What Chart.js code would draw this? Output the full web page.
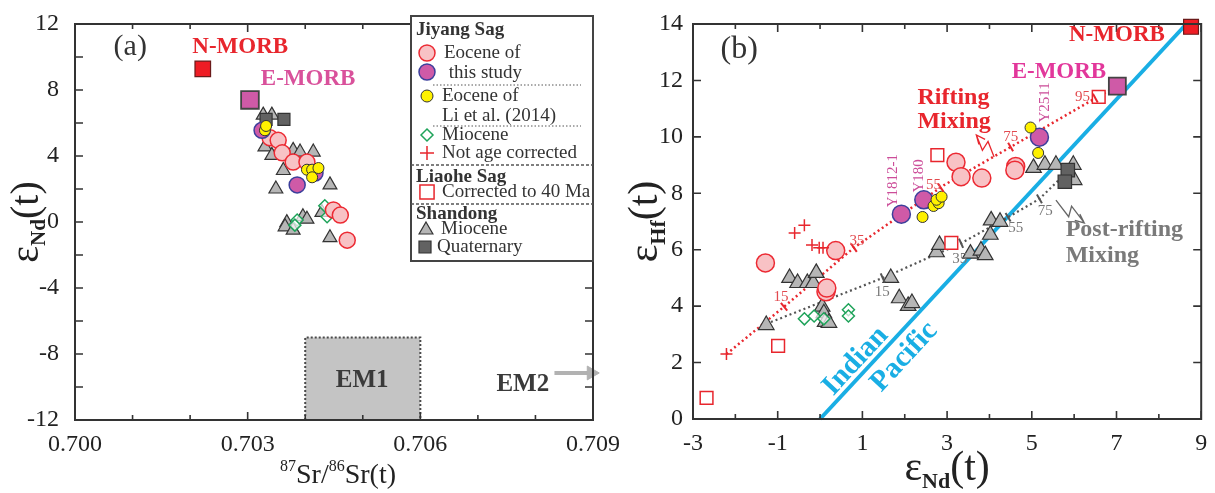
<!DOCTYPE html>
<html>
<head>
<meta charset="utf-8">
<script src="https://cdn.jsdelivr.net/npm/chart.js@4.4.0/dist/chart.umd.min.js"></script>
<style>
  html, body { margin: 0; padding: 0; background: #fff; }
  #wrap { position: relative; width: 1215px; height: 493px; overflow: hidden; }
  #ca { position: absolute; left: 0; top: 0; }
  #cb { position: absolute; left: 607px; top: 0; }
</style>
</head>
<body>
<div id="wrap">
  <canvas id="ca" width="640" height="493"></canvas>
  <canvas id="cb" width="608" height="493"></canvas>
</div>
<script>
const FONT = "'Liberation Serif', 'Times New Roman', serif";

// ---------------- DATA (a): 87Sr/86Sr(t) vs eNd(t) ----------------

const aEoceneThis   = [[0.70339,5.10],[0.70353,4.95],[0.70360,4.19],[0.70379,3.63],[0.70403,3.63],[0.70449,0.73],[0.70461,0.42],[0.70473,-1.10]];
const aEoceneThisMg = [[0.70325,5.56],[0.70386,2.25],[0.70417,2.97]];
const aEoceneLi     = [[0.70330,5.56],[0.70332,5.82],[0.70403,3.17],[0.70412,3.17],[0.70423,3.27],[0.70412,2.71]];
const aMiocene      = [[0.70386,0.12],[0.70382,-0.19],[0.70434,0.98],[0.70438,0.32]];
const aShandongMio  = [[0.70327,6.48],[0.70342,6.48],[0.70330,4.55],[0.70342,4.04],[0.70379,4.34],[0.70391,4.24],[0.70414,4.24],[0.70362,3.12],[0.70349,2.00],[0.70443,2.25],[0.70368,-0.04],[0.70365,-0.29],[0.70379,-0.49],[0.70396,0.32],[0.70403,0.17],[0.70429,0.58],[0.70443,-0.95]];
const aShandongQua  = [[0.70332,6.22],[0.70363,6.22]];
const aNMORB = [[0.70222,9.28]];
const aEMORB = [[0.70304,7.40]];
const aEM1   = [[0.704,-12],[0.704,-7],[0.706,-7],[0.706,-12]];
const aEM2   = [[0.70833,-9.15],[0.70897,-9.15]];

const aXLabels = [0.700, 0.703, 0.706, 0.709];
const aYLabels = [-12, -8, -4, 0, 4, 8, 12];

// ---------------- DATA (b): eNd(t) vs eHf(t) ----------------

const bEoceneThis   = [[-1.29,5.53],[0.14,4.51],[0.16,4.64],[0.37,5.97],[3.21,9.10],[3.33,8.59],[3.82,8.54],[4.62,8.95],[4.60,8.82]];
const bEoceneThisMg = [[1.92,7.26],[2.45,7.77],[5.18,9.99]];
const bEoceneLi     = [[2.42,7.16],[2.68,7.55],[2.80,7.65],[2.75,7.77],[2.87,7.88],[4.97,10.33],[5.15,9.43]];
const bMiocene      = [[-0.37,3.55],[-0.14,3.65],[0.09,3.55],[0.67,3.87],[0.67,3.65]];
const bNotCorrected = [[-2.21,2.30],[-0.60,6.59],[-0.37,6.87],[-0.19,6.17],[-0.02,6.07],[0.07,6.07]];
const bLiaohe       = [[-2.68,0.75],[-0.99,2.59],[2.77,9.35],[3.10,6.24],[6.58,11.42]];
const bShandongMio  = [[-1.27,3.33],[-0.72,5.00],[-0.53,4.82],[-0.30,4.82],[-0.16,4.82],[-0.09,5.18],[0.05,3.98],[0.09,3.75],[0.12,3.44],[0.21,3.41],[1.67,5.00],[1.87,4.28],[2.08,4.01],[2.17,4.11],[2.75,5.91],[2.82,6.17],[3.55,5.86],[3.80,5.97],[3.90,5.81],[4.02,6.53],[4.04,7.04],[4.25,6.99],[5.04,8.90],[5.31,9.01],[5.57,9.01],[5.98,9.01],[6.00,8.47]];
const bShandongQua  = [[5.85,8.82],[5.78,8.41]];
const bNMORB = [[8.76,13.90]];
const bEMORB = [[7.02,11.80]];
const bBoundary = [[0,0],[8.65,14]];

const bRiftCurve  = [[-2.21,2.30],[-0.85,3.98],[0.80,6.07],[1.94,7.26],[2.94,8.30],[4.50,9.64],[6.56,11.42],[7.02,11.80]];
const bRiftTicks  = [[-0.85,3.98],[0.80,6.07],[2.85,8.20],[4.50,9.64],[6.50,11.37]];
const bRiftPct    = ["15", "35", "55", "75", "95"];
const bRiftPctPos = [[-0.92,4.32],[0.87,6.31],[2.68,8.29],[4.50,10.00],[6.20,11.41]];

const bPostCurve  = [[-1.27,3.37],[1.48,5.00],[2.87,5.92],[3.33,6.23],[4.44,7.15],[5.18,7.80],[5.78,8.68]];
const bPostTicks  = [[1.48,5.00],[3.33,6.23],[4.44,7.15],[5.18,7.80]];
const bPostPct    = ["15", "35", "55", "75"];
const bPostPctPos = [[1.47,4.50],[3.30,5.67],[4.62,6.77],[5.32,7.37]];

const bXLabels = [-3, -1, 1, 3, 5, 7, 9];
const bYLabels = [0, 2, 4, 6, 8, 10, 12, 14];

// ---------------- STYLES ----------------

const sPink  = { pointStyle: "circle", pointRadius: 8, pointBackgroundColor: "#f8c2c5", pointBorderColor: "#ec2a33", pointBorderWidth: 1.5 };
const sMag   = { pointStyle: "circle", pointRadius: 8, pointBackgroundColor: "#cf5aa7", pointBorderColor: "#3c3f9c", pointBorderWidth: 1.5 };
const sYel   = { pointStyle: "circle", pointRadius: 5.5, pointBackgroundColor: "#fff100", pointBorderColor: "#333", pointBorderWidth: 1 };
const sDia   = { pointStyle: "rectRot", pointRadius: 6, pointBackgroundColor: "rgba(255,255,255,0.7)", pointBorderColor: "#1fa35a", pointBorderWidth: 1.5 };
const sPlus  = { pointStyle: "cross", pointRadius: 6, pointBorderColor: "#e8262d", pointBorderWidth: 1.5 };
const sTri   = { pointStyle: "triangle", pointRadius: 8, pointBackgroundColor: "#b6b6b6", pointBorderColor: "#333", pointBorderWidth: 1.2 };
const sQua   = { pointStyle: "rect", pointRadius: 8.5, pointBackgroundColor: "#626262", pointBorderColor: "#333", pointBorderWidth: 1.2 };
const sLiao  = { pointStyle: "rect", pointRadius: 9, pointBackgroundColor: "#fff", pointBorderColor: "#e8262d", pointBorderWidth: 1.5 };
const sNMORB = { pointStyle: "rect", pointRadius: 11, pointBackgroundColor: "#ee1c24", pointBorderColor: "#6a1a1a", pointBorderWidth: 1.2 };
const sEMORB = { pointStyle: "rect", pointRadius: 12.5, pointBackgroundColor: "#cf5aa7", pointBorderColor: "#444", pointBorderWidth: 1.8 };

// ---------------- HELPERS ----------------

function pts(a) { return a.map(p => ({ x: p[0], y: p[1] })); }

function set(a, style, order, extra) {
  return Object.assign({ data: pts(a), showLine: false, order: order, clip: false }, style, extra || {});
}

function lineSet(a, color, width, dash, order) {
  return { data: pts(a), showLine: true, borderColor: color, borderWidth: width, borderDash: dash,
           pointRadius: 0, fill: false, tension: 0, order: order, clip: false };
}

function hasLabel(list, v) { return list.some(l => Math.abs(l - v) < 1e-7); }

function txt(ctx, s, x, y, font, color, align) {
  ctx.font = font; ctx.fillStyle = color;
  ctx.textAlign = align || "center"; ctx.textBaseline = "middle";
  ctx.fillText(s, x, y);
}

function runs(ctx, parts, cx, cy, color) {
  let w = 0;
  parts.forEach(r => { ctx.font = r.f; r.w = ctx.measureText(r.t).width; w += r.w; });
  let x = cx - w / 2;
  ctx.fillStyle = color; ctx.textAlign = "left"; ctx.textBaseline = "alphabetic";
  parts.forEach(r => { ctx.font = r.f; ctx.fillText(r.t, x, cy + (r.dy || 0)); x += r.w; });
}

function marker(ctx, st, x, y, r) {
  ctx.save();
  ctx.fillStyle = st.pointBackgroundColor || "rgba(0,0,0,0)";
  ctx.strokeStyle = st.pointBorderColor; ctx.lineWidth = st.pointBorderWidth;
  ctx.beginPath();
  if (st.pointStyle === "circle") ctx.arc(x, y, r, 0, Math.PI * 2);
  else if (st.pointStyle === "rect") { const s = r * Math.SQRT1_2; ctx.rect(x - s, y - s, 2 * s, 2 * s); }
  else if (st.pointStyle === "rectRot") { ctx.moveTo(x - r, y); ctx.lineTo(x, y - r); ctx.lineTo(x + r, y); ctx.lineTo(x, y + r); ctx.closePath(); }
  else if (st.pointStyle === "triangle") { ctx.moveTo(x, y - r); ctx.lineTo(x + r * 0.866, y + r / 2); ctx.lineTo(x - r * 0.866, y + r / 2); ctx.closePath(); }
  else if (st.pointStyle === "cross") { ctx.moveTo(x - r, y); ctx.lineTo(x + r, y); ctx.moveTo(x, y - r); ctx.lineTo(x, y + r); }
  if (st.pointStyle !== "cross") ctx.fill();
  ctx.stroke();
  ctx.restore();
}

function zigzag(ctx, x1, y1, x2, y2, color) {
  const dx = x2 - x1, dy = y2 - y1, L = Math.hypot(dx, dy);
  const ux = dx / L, uy = dy / L, nx = -uy, ny = ux;
  ctx.save();
  ctx.strokeStyle = color; ctx.lineWidth = 1.3; ctx.setLineDash([]);
  ctx.beginPath();
  ctx.moveTo(x1, y1);
  ctx.lineTo(x1 + dx * 0.56 + nx * 5, y1 + dy * 0.56 + ny * 5);
  ctx.lineTo(x1 + dx * 0.44 - nx * 5, y1 + dy * 0.44 - ny * 5);
  ctx.lineTo(x2, y2);
  ctx.moveTo(x2 - ux * 9 + nx * 4, y2 - uy * 9 + ny * 4);
  ctx.lineTo(x2, y2);
  ctx.lineTo(x2 - ux * 9 - nx * 4, y2 - uy * 9 - ny * 4);
  ctx.stroke();
  ctx.restore();
}

function curveTicks(ctx, x, y, curve, ticks, color) {
  ctx.save();
  ctx.strokeStyle = color; ctx.lineWidth = 2; ctx.setLineDash([]);
  ticks.forEach(t => {
    let best = 0, bd = Infinity;
    for (let i = 0; i < curve.length - 1; i++) {
      const mx = (curve[i][0] + curve[i + 1][0]) / 2, my = (curve[i][1] + curve[i + 1][1]) / 2;
      const d = Math.hypot(mx - t[0], my - t[1]);
      if (d < bd) { bd = d; best = i; }
    }
    const ax = x.getPixelForValue(curve[best][0]), ay = y.getPixelForValue(curve[best][1]);
    const bx = x.getPixelForValue(curve[best + 1][0]), by = y.getPixelForValue(curve[best + 1][1]);
    const L = Math.hypot(bx - ax, by - ay), nx = -(by - ay) / L, ny = (bx - ax) / L;
    const cx = x.getPixelForValue(t[0]), cy = y.getPixelForValue(t[1]);
    ctx.beginPath(); ctx.moveTo(cx - nx * 5, cy - ny * 5); ctx.lineTo(cx + nx * 5, cy + ny * 5); ctx.stroke();
  });
  ctx.restore();
}

// frame with inward ticks on all four sides
function framePlugin(yMinorLen) {
  return {
    id: "frame",
    afterDatasetsDraw(c) {
      const { ctx, chartArea: a, scales: { x, y } } = c;
      ctx.save();
      ctx.strokeStyle = "#333"; ctx.lineWidth = 1.6;
      ctx.beginPath();
      x.ticks.forEach(t => {
        const p = x.getPixelForValue(t.value), len = t.label ? 8 : 5;
        ctx.moveTo(p, a.bottom); ctx.lineTo(p, a.bottom - len);
        ctx.moveTo(p, a.top); ctx.lineTo(p, a.top + len);
      });
      y.ticks.forEach(t => {
        const p = y.getPixelForValue(t.value), len = t.label ? 8 : yMinorLen;
        ctx.moveTo(a.left, p); ctx.lineTo(a.left + len, p);
        ctx.moveTo(a.right, p); ctx.lineTo(a.right - len, p);
      });
      ctx.stroke();
      ctx.lineWidth = 2;
      ctx.strokeRect(a.left, a.top, a.right - a.left, a.bottom - a.top);
      ctx.restore();
    }
  };
}

function axisX(min, max, step, labels, fmt, height) {
  return {
    type: "linear", position: "bottom", min: min, max: max,
    grid: { display: false, drawTicks: false }, border: { display: false },
    ticks: { stepSize: step, autoSkip: false, maxRotation: 0, maxTicksLimit: 100, padding: 10,
             color: "#222", font: { family: FONT, size: 24 },
             callback: v => hasLabel(labels, v) ? fmt(v) : "" },
    afterFit(s) { s.height = height; s.paddingLeft = 0; s.paddingRight = 0; }
  };
}

function axisY(min, max, step, labels, width, pad) {
  return {
    type: "linear", position: "left", min: min, max: max,
    grid: { display: false, drawTicks: false }, border: { display: false },
    ticks: { stepSize: step, autoSkip: false, maxTicksLimit: 100, padding: pad,
             color: "#222", font: { family: FONT, size: 24 },
             callback: v => hasLabel(labels, v) ? String(Math.round(v)) : "" },
    afterFit(s) { s.width = width; s.paddingTop = 0; s.paddingBottom = 0; }
  };
}

function baseOptions(scales, padRight) {
  return {
    responsive: false, animation: false, devicePixelRatio: 1, events: [],
    layout: { padding: { top: 24, right: padRight, left: 0, bottom: 0 } },
    plugins: { legend: { display: false }, tooltip: { enabled: false } },
    scales: scales
  };
}

// ---------------- PANEL (a) ----------------

function legendA(ctx, ca) {
  const L = ca.right - 182, T = 16, R = ca.right, B = 261;
  ctx.save();
  ctx.fillStyle = "#fff"; ctx.fillRect(L, T, R - L, B - T);
  ctx.strokeStyle = "#444"; ctx.lineWidth = 2; ctx.strokeRect(L, T, R - L, B - T);
  const f = "19px " + FONT, fb = "bold 19px " + FONT, c = "#333";
  txt(ctx, "Jiyang Sag", L + 5, 30, fb, c, "left");
  marker(ctx, sPink, L + 16, 53, 8);   txt(ctx, "Eocene of", L + 33, 53, f, c, "left");
  marker(ctx, sMag, L + 16, 72, 8);    txt(ctx, " this study", L + 33, 73, f, c, "left");
  marker(ctx, sYel, L + 16, 96, 6);    txt(ctx, "Eocene of", L + 31, 96, f, c, "left");
  txt(ctx, "Li et al. (2014)", L + 31, 116, f, c, "left");
  marker(ctx, sDia, L + 16, 135, 6);   txt(ctx, "Miocene", L + 31, 135, f, c, "left");
  marker(ctx, sPlus, L + 16, 153, 7);  txt(ctx, "Not age corrected", L + 31, 153, f, c, "left");
  txt(ctx, "Liaohe Sag", L + 5, 177, fb, c, "left");
  marker(ctx, sLiao, L + 16, 192, 10); txt(ctx, "Corrected to 40 Ma", L + 31, 192, f, c, "left");
  txt(ctx, "Shandong", L + 5, 214, fb, c, "left");
  marker(ctx, sTri, L + 15, 230, 8);   txt(ctx, "Miocene", L + 30, 229, f, c, "left");
  marker(ctx, sQua, L + 14, 247, 8.5); txt(ctx, "Quaternary", L + 26, 247, f, c, "left");
  ctx.strokeStyle = "#555";
  ctx.lineWidth = 1; ctx.setLineDash([1.5, 2]);
  ctx.beginPath();
  ctx.moveTo(L + 22, 85); ctx.lineTo(L + 170, 85);
  ctx.moveTo(L + 22, 126); ctx.lineTo(L + 170, 126);
  ctx.stroke();
  ctx.lineWidth = 1.4; ctx.setLineDash([3, 2]);
  ctx.beginPath();
  ctx.moveTo(L, 165); ctx.lineTo(R, 165);
  ctx.moveTo(L, 204); ctx.lineTo(R, 204);
  ctx.stroke();
  ctx.restore();
}

const notesA = {
  id: "notesA",
  afterDraw(c) {
    const { ctx, chartArea: ca, scales: { x, y } } = c;
    const X = v => x.getPixelForValue(v), Y = v => y.getPixelForValue(v);
    ctx.save();
    txt(ctx, "(a)", X(0.70096), Y(10.6), "30px " + FONT, "#333");
    txt(ctx, "N-MORB", X(0.70287), Y(10.6), "bold 23px " + FONT, "#e8262d");
    txt(ctx, "E-MORB", X(0.70405), Y(8.67), "bold 23px " + FONT, "#d9519b");
    txt(ctx, "EM1", X(0.70499), Y(-9.58), "bold 25px " + FONT, "#3a3a3a");
    txt(ctx, "EM2", X(0.70778), Y(-9.88), "bold 25px " + FONT, "#3a3a3a");
    runs(ctx, [
      { t: "87", f: "16px " + FONT, dy: -12 },
      { t: "Sr/", f: "28px " + FONT },
      { t: "86", f: "16px " + FONT, dy: -12 },
      { t: "Sr(t)", f: "28px " + FONT }
    ], (ca.left + ca.right) / 2 + 4, 483, "#222");
    ctx.translate(38, (ca.top + ca.bottom) / 2);
    ctx.rotate(-Math.PI / 2);
    runs(ctx, [
      { t: "\u03b5", f: "40px " + FONT },
      { t: "Nd", f: "bold 21px " + FONT, dy: 7 },
      { t: "(t)", f: "40px " + FONT }
    ], 0, 0, "#222");
    ctx.setTransform(1, 0, 0, 1, 0, 0);
    legendA(ctx, ca);
    ctx.restore();
  }
};

new Chart(document.getElementById("ca"), {
  type: "scatter",
  data: {
    datasets: [
      Object.assign(lineSet(aEM1, "#4a4a4a", 2, [2, 2], 40), { fill: "start", backgroundColor: "#c4c4c4" }),
      Object.assign(lineSet(aEM2, "#b2b2b2", 4, [], 39), {
        pointRadius: [0, 8], pointStyle: "triangle", pointRotation: 90,
        pointBackgroundColor: "#b2b2b2", pointBorderColor: "#b2b2b2", pointBorderWidth: 1
      }),
      set(aShandongMio, sTri, 20),
      set(aShandongQua, sQua, 19),
      set(aMiocene, sDia, 18),
      set(aEoceneThis, sPink, 16),
      set(aEoceneThisMg, sMag, 15),
      set(aEoceneLi, sYel, 14),
      set(aNMORB, sNMORB, 10),
      set(aEMORB, sEMORB, 10)
    ]
  },
  options: baseOptions({
    x: axisX(0.700, 0.709, 0.001, aXLabels, v => v.toFixed(3), 73),
    y: axisY(-12, 12, 2, aYLabels, 75, 16)
  }, 47),
  plugins: [framePlugin(8), notesA]
});

// ---------------- PANEL (b) ----------------

const notesB = {
  id: "notesB",
  afterDatasetsDraw(c) {
    const { ctx, scales: { x, y } } = c;
    curveTicks(ctx, x, y, bRiftCurve, bRiftTicks, "#e8262d");
    curveTicks(ctx, x, y, bPostCurve, bPostTicks, "#555");
  },
  afterDraw(c) {
    const { ctx, chartArea: ca, scales: { x, y } } = c;
    const X = v => x.getPixelForValue(v), Y = v => y.getPixelForValue(v);
    ctx.save();
    txt(ctx, "(b)", X(-1.91), Y(13.08), "32px " + FONT, "#333");
    txt(ctx, "N-MORB", X(7.01), Y(13.61), "bold 23px " + FONT, "#e8262d");
    txt(ctx, "E-MORB", X(5.64), Y(12.30), "bold 23px " + FONT, "#e2379b");
    txt(ctx, "Rifting", X(2.30), Y(11.38), "bold 24px " + FONT, "#e8262d", "left");
    txt(ctx, "Mixing", X(2.30), Y(10.53), "bold 24px " + FONT, "#e8262d", "left");
    txt(ctx, "Post-rifting", X(5.80), Y(6.70), "bold 24px " + FONT, "#7a7a7a", "left");
    txt(ctx, "Mixing", X(5.80), Y(5.78), "bold 24px " + FONT, "#7a7a7a", "left");
    bRiftPct.forEach((s, i) => txt(ctx, s, X(bRiftPctPos[i][0]), Y(bRiftPctPos[i][1]), "15px " + FONT, "#e24a4f"));
    bPostPct.forEach((s, i) => txt(ctx, s, X(bPostPctPos[i][0]), Y(bPostPctPos[i][1]), "15px " + FONT, "#777"));
    zigzag(ctx, X(4.11), Y(9.29), X(3.69), Y(10.07), "#e8262d");
    zigzag(ctx, X(5.57), Y(7.76), X(6.24), Y(6.95), "#666");

    const ang = Math.atan2(Y(bBoundary[1][1]) - Y(bBoundary[0][1]), X(bBoundary[1][0]) - X(bBoundary[0][0]));
    [["Indian", 0.84, 2.05], ["Pacific", 1.99, 2.20]].forEach(t => {
      ctx.save();
      ctx.translate(X(t[1]), Y(t[2])); ctx.rotate(ang);
      txt(ctx, t[0], 0, 0, "bold 29px " + FONT, "#19aee4");
      ctx.restore();
    });
    [["Y1812-1", 1.73, 8.45], ["Y180", 2.33, 8.62], ["Y2511", 5.32, 11.22]].forEach(t => {
      ctx.save();
      ctx.translate(X(t[1]), Y(t[2])); ctx.rotate(-Math.PI / 2);
      txt(ctx, t[0], 0, 0, "15px " + FONT, "#cc4d99");
      ctx.restore();
    });

    runs(ctx, [
      { t: "\u03b5", f: "42px " + FONT },
      { t: "Nd", f: "bold 22px " + FONT, dy: 8 },
      { t: "(t)", f: "42px " + FONT }
    ], (ca.left + ca.right) / 2, 480, "#222");
    ctx.translate(50, (ca.top + ca.bottom) / 2);
    ctx.rotate(-Math.PI / 2);
    runs(ctx, [
      { t: "\u03b5", f: "42px " + FONT },
      { t: "Hf", f: "bold 22px " + FONT, dy: 8 },
      { t: "(t)", f: "42px " + FONT }
    ], 0, 0, "#222");
    ctx.restore();
  }
};

new Chart(document.getElementById("cb"), {
  type: "scatter",
  data: {
    datasets: [
      lineSet(bBoundary, "#19aee4", 4, [], 35),
      lineSet(bRiftCurve, "#e8262d", 2.5, [2, 3], 30),
      lineSet(bPostCurve, "#555", 2.2, [2, 3], 30),
      set(bShandongMio, sTri, 20, { pointRadius: 9 }),
      set(bShandongQua, sQua, 19, { pointRadius: 9.5 }),
      set(bMiocene, sDia, 18),
      set(bLiaohe, sLiao, 17),
      set(bEoceneThis, sPink, 16, { pointRadius: 9 }),
      set(bEoceneThisMg, sMag, 15, { pointRadius: 9 }),
      set(bEoceneLi, sYel, 14),
      set(bNotCorrected, sPlus, 13),
      set(bNMORB, sNMORB, 10, { pointRadius: 10.5 }),
      set(bEMORB, sEMORB, 10, { pointRadius: 12 })
    ]
  },
  options: baseOptions({
    x: axisX(-3, 9, 1, bXLabels, v => String(v), 74),
    y: axisY(0, 14, 2, bYLabels, 86, 10)
  }, 4),
  plugins: [framePlugin(8), notesB]
});
</script>
</body>
</html>
